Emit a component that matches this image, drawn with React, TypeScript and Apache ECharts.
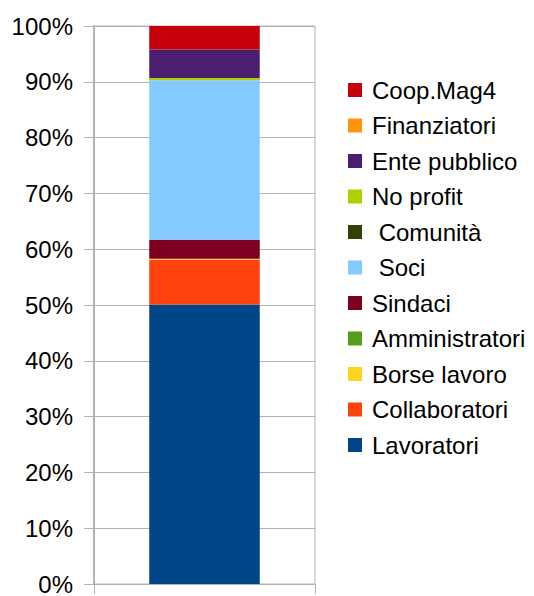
import React, { useEffect, useRef } from "react";
import * as echarts from "echarts";

const categories = [""];
const seriesNames = [
  "Lavoratori",
  "Collaboratori",
  "Borse lavoro",
  "Amministratori",
  "Sindaci",
  " Soci",
  " Comunità",
  "No profit",
  "Ente pubblico",
  "Finanziatori",
  "Coop.Mag4",
];
const seriesValues = [50.1, 8.0, 0.2, 0, 3.4, 28.6, 0, 0.4, 5.1, 0, 4.2];
const seriesColors = [
  "#004586",
  "#ff420e",
  "#ffd320",
  "#579d1c",
  "#7e0021",
  "#83caff",
  "#314004",
  "#aecf00",
  "#4b1f6f",
  "#ff950e",
  "#c5000b",
];
const yTicks = { min: 0, max: 100, interval: 10 };

export default function App() {
  const ref = useRef<HTMLDivElement>(null);
  useEffect(() => {
    if (!ref.current) return;
    const chart = echarts.init(ref.current, null, { renderer: "svg" });
    const font = "'Liberation Sans', Arial, sans-serif";
    chart.setOption({
      animation: false,
      backgroundColor: "#ffffff",
      grid: {
        left: 94,
        right: 219,
        top: 26,
        bottom: 9,
        show: true,
        borderColor: "#b3b3b3",
        borderWidth: 1,
      },
      legend: {
        orient: "vertical",
        left: 343,
        top: 72,
        itemWidth: 14,
        itemHeight: 14,
        itemGap: 9.5,
        icon: "rect",
        data: [...seriesNames].reverse(),
        textStyle: {
          fontFamily: font,
          fontSize: 24,
          color: "#000",
          lineHeight: 26,
          padding: [0, 0, 0, 5],
        },
        selectedMode: false,
      },
      xAxis: {
        type: "category",
        data: categories,
        axisLine: { show: true, lineStyle: { color: "#b3b3b3" } },
        axisTick: { show: true, length: 10, lineStyle: { color: "#b3b3b3" } },
        axisLabel: { show: false },
      },
      yAxis: {
        type: "value",
        min: yTicks.min,
        max: yTicks.max,
        interval: yTicks.interval,
        axisLine: { show: true, lineStyle: { color: "#b3b3b3", width: 2 } },
        axisTick: { show: true, length: 10, lineStyle: { color: "#b3b3b3" } },
        splitLine: { show: true, lineStyle: { color: "#b3b3b3" } },
        axisLabel: {
          formatter: "{value}%",
          fontFamily: font,
          fontSize: 24,
          color: "#000",
          margin: 21,
        },
      },
      series: seriesNames.map((name, i) => ({
        name,
        type: "bar",
        stack: "total",
        barWidth: "50%",
        data: [seriesValues[i]],
        itemStyle: { color: seriesColors[i] },
      })),
    });
    return () => chart.dispose();
  }, []);
  return (
    <div
      ref={ref}
      style={{ position: "absolute", left: 0, top: 0, width: 534, height: 596 }}
    />
  );
}
